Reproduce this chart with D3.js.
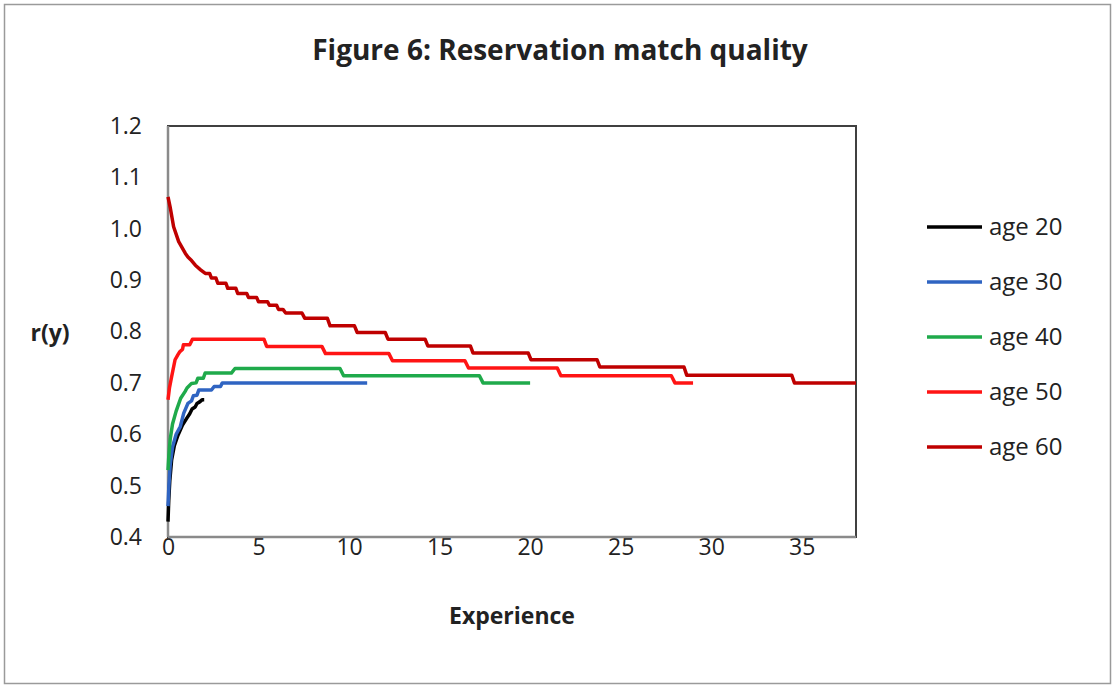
<!DOCTYPE html>
<html>
<head>
<meta charset="utf-8">
<script src="https://d3js.org/d3.v7.min.js"></script>
<style>
  body { margin: 0; background: #fff; }
  text { font-family: "Open Sans", "Liberation Sans", sans-serif; fill: #222; }
  .axis path { display: none; }
  .axis text { font-size: 23px; fill: #222; font-family: "Open Sans", sans-serif; }
</style>
</head>
<body>
<div id="chart"></div>
<script>
// values: [experience, r(y)]
const age20 = [[0,0.43],[0.04,0.47],[0.1,0.51],[0.2,0.55],[0.35,0.578],[0.55,0.598],[0.8,0.618],
  [1.05,0.632],[1.2,0.64],[1.33,0.649],[1.5,0.653],[1.6,0.66],[1.75,0.663],[1.88,0.667],[2.0,0.667]];
const age30 = [[0,0.46],[0.05,0.5],[0.12,0.54],[0.25,0.575],[0.45,0.6],[0.68,0.615],[0.87,0.641],
  [1.1,0.66],[1.3,0.665],[1.4,0.675],[1.6,0.676],[1.7,0.686],[2.4,0.686],[2.55,0.693],[2.9,0.693],
  [3.0,0.7],[11.0,0.7]];
const age40 = [[0,0.53],[0.05,0.56],[0.12,0.59],[0.25,0.62],[0.45,0.645],[0.7,0.67],[0.94,0.683],
  [1.05,0.69],[1.3,0.699],[1.55,0.7],[1.65,0.709],[1.95,0.709],[2.05,0.719],[3.5,0.719],[3.7,0.728],
  [9.5,0.728],[9.7,0.714],[17.2,0.714],[17.4,0.7],[20.0,0.7]];
const age50 = [[0,0.667],[0.08,0.69],[0.2,0.712],[0.39,0.745],[0.55,0.755],[0.66,0.761],[0.8,0.765],
  [0.85,0.774],[1.2,0.774],[1.35,0.785],[5.3,0.785],[5.45,0.771],[8.5,0.771],[8.7,0.757],[12.2,0.757],
  [12.4,0.743],[16.4,0.743],[16.6,0.729],[21.5,0.729],[21.7,0.714],[27.8,0.714],[28.0,0.7],[29.0,0.7]];
const age60 = [[0,1.062],[0.13,1.04],[0.31,1.004],[0.59,0.975],[0.96,0.952],[1.1,0.945],[1.3,0.938],
  [1.51,0.929],[1.8,0.92],[2.06,0.913],[2.3,0.913],[2.4,0.904],[2.65,0.904],[2.75,0.894],[3.2,0.894],
  [3.3,0.884],[3.75,0.884],[3.85,0.874],[4.35,0.874],[4.45,0.866],[4.9,0.866],[5.0,0.858],[5.5,0.858],
  [5.6,0.851],[6.0,0.851],[6.1,0.843],[6.35,0.843],[6.5,0.836],[7.4,0.836],[7.55,0.826],[8.8,0.826],
  [8.95,0.811],[10.3,0.811],[10.45,0.798],[12.0,0.798],[12.15,0.785],[14.2,0.785],[14.35,0.772],
  [16.7,0.772],[16.85,0.758],[19.9,0.758],[20.05,0.745],[23.7,0.745],[23.85,0.731],[28.5,0.731],
  [28.65,0.715],[34.45,0.715],[34.6,0.7],[38,0.7]];

const seriesNames = ['age 20', 'age 30', 'age 40', 'age 50', 'age 60'];
const seriesData = [age20, age30, age40, age50, age60];
const seriesColors = ['#000000', '#2f64c2', '#1faa4b', '#ff1414', '#bf0000'];
const xTicks = [0, 5, 10, 15, 20, 25, 30, 35];
const yTicks = [0.4, 0.5, 0.6, 0.7, 0.8, 0.9, 1.0, 1.1, 1.2];

const fullW = 1115, fullH = 688;
const margin = { top: 126, right: 259, bottom: 151, left: 168 };
const w = fullW - margin.left - margin.right;
const h = fullH - margin.top - margin.bottom;

const svg = d3.select('#chart').append('svg')
  .attr('width', fullW).attr('height', fullH);

// outer chart frame
svg.append('rect')
  .attr('x', 4.5).attr('y', 4.5).attr('width', fullW - 9).attr('height', fullH - 9)
  .attr('fill', '#fff').attr('stroke', '#9a9a9a').attr('stroke-width', 1.5);

svg.append('text')
  .attr('x', 560).attr('y', 60)
  .attr('text-anchor', 'middle')
  .style('font-size', '28px').style('font-weight', 'bold')
  .text('Figure 6: Reservation match quality');

const g = svg.append('g').attr('transform', `translate(${margin.left},${margin.top})`);

const x = d3.scaleLinear().domain([0, 38]).range([0, w]);
const y = d3.scaleLinear().domain([0.4, 1.2]).range([h, 0]);

g.append('g').attr('class', 'axis')
  .call(d3.axisLeft(y).tickValues(yTicks).tickFormat(d3.format('.1f')).tickSize(0).tickPadding(26));

g.append('g').attr('class', 'axis').attr('transform', `translate(0,${h})`)
  .call(d3.axisBottom(x).tickValues(xTicks).tickFormat(d3.format('d')).tickSize(0).tickPadding(2));

// plot area frame
g.append('rect')
  .attr('width', w).attr('height', h)
  .attr('fill', 'none').attr('stroke', '#404040').attr('stroke-width', 2);
g.append('line')
  .attr('x1', 0).attr('x2', 0).attr('y1', 0).attr('y2', h)
  .attr('stroke', '#8a8a8a').attr('stroke-width', 2.5);
g.append('line')
  .attr('x1', 0).attr('x2', w).attr('y1', h).attr('y2', h)
  .attr('stroke', '#8a8a8a').attr('stroke-width', 2.5);

const line = d3.line().x(d => x(d[0])).y(d => y(d[1]));

// later series are drawn on top, as in the reference
seriesData.forEach((data, i) => {
  g.append('path')
    .datum(data)
    .attr('d', line)
    .attr('fill', 'none')
    .attr('stroke', seriesColors[i])
    .attr('stroke-width', 3.5)
    .attr('stroke-linejoin', 'round');
});

svg.append('text')
  .attr('x', 512).attr('y', 624)
  .attr('text-anchor', 'middle')
  .style('font-size', '23px').style('font-weight', 'bold')
  .text('Experience');

svg.append('text')
  .attr('x', 50).attr('y', 341)
  .attr('text-anchor', 'middle')
  .style('font-size', '23px').style('font-weight', 'bold')
  .text('r(y)');

const legend = svg.append('g').attr('transform', 'translate(927,227)');
seriesNames.forEach((name, i) => {
  const row = legend.append('g').attr('transform', `translate(0,${i * 55})`);
  row.append('line')
    .attr('x1', 0).attr('x2', 55).attr('y1', 0).attr('y2', 0)
    .attr('stroke', seriesColors[i]).attr('stroke-width', 3.5);
  row.append('text')
    .attr('x', 62).attr('y', 0).attr('dy', '0.35em')
    .style('font-size', '24px')
    .text(name);
});
</script>
</body>
</html>
